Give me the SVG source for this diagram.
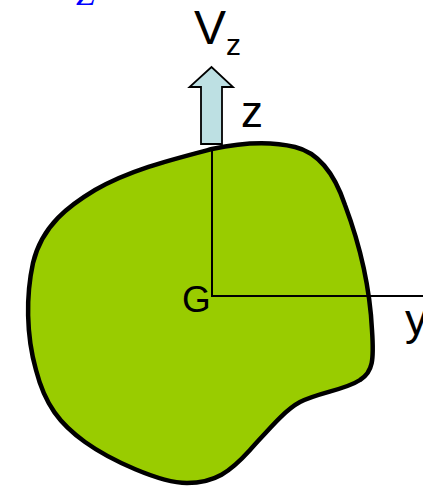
<svg xmlns="http://www.w3.org/2000/svg" width="423" height="487" viewBox="0 0 423 487">
<style>
.lbl{font-family:"Liberation Sans",Arial,sans-serif;fill:#000}
.ax{stroke:#000;stroke-width:2;fill:none}
</style>
<rect width="423" height="487" fill="#fff"/>
<g id="section">
<path d="M212,149 C240,143 270,141 295,147 C320,153 335,175 345,205 C360,245 370,290 372,330 C374,360 373,372 360,380 C345,390 320,392 300,402 C285,410 270,428 250,450 C230,472 215,483 187,483 C160,483 110,460 85,442 C60,424 45,405 36,370 C26,335 26,295 33,263 C42,225 70,205 95,190 C130,170 170,160 212,149 Z" fill="#99CC00" stroke="#000" stroke-width="4.5" stroke-linejoin="round"/>
</g>
<g id="connectors">
<line class="ax" x1="212" y1="149" x2="212" y2="296"/>
<line class="ax" x1="211" y1="296" x2="423" y2="296"/>
</g>
<g id="arrow">
<path d="M201,144 L201,87 L189.5,87 L211.5,67 L233,87 L222,87 L222,144 Z" fill="#BDE0E3" stroke="#000" stroke-width="1.8" stroke-linejoin="miter"/>
</g>
<g id="labels">
<text class="lbl" x="194" y="44" font-size="48">V</text>
<text class="lbl" x="226" y="55" font-size="30">z</text>
<text class="lbl" x="241" y="127" font-size="44">z</text>
<text class="lbl" x="182" y="312" font-size="37">G</text>
<text class="lbl" x="405" y="335" font-size="45">y</text>
<text x="76" y="5" font-family="'Liberation Serif',serif" font-style="italic" font-size="34" fill="#0000FF">Z</text>
</g>
</svg>
